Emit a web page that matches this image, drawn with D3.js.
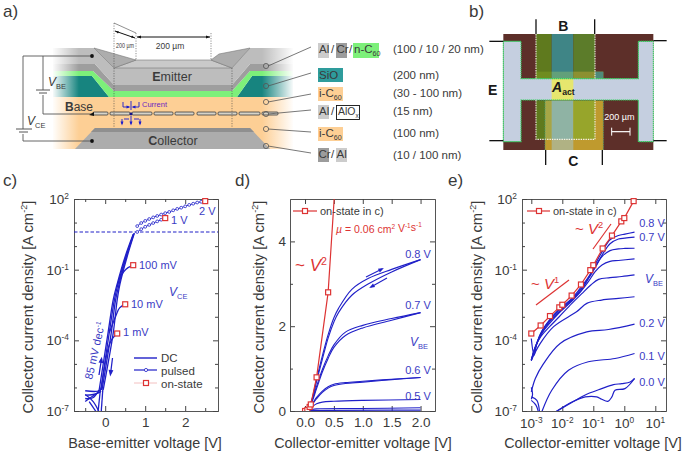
<!DOCTYPE html>
<html><head><meta charset="utf-8">
<script src="https://cdn.jsdelivr.net/npm/d3@7/dist/d3.min.js"></script>
<style>html,body{margin:0;padding:0;background:#fff}svg{display:block;font-family:"Liberation Sans",Arial,sans-serif}</style>
</head><body><svg id="c" width="685" height="455"></svg>
<script>
// ---------- panel c data: [Vbe, log10 J]
const cBandUp=[[-0.15,-6.1],[0.07,-3.69],[0.2,-2.28],[0.3,-1.6],[0.5,-0.44],[0.7,0.5]];
const cBandDown=[[-0.05,-6.1],[0.2,-3.69],[0.3,-2.28],[0.37,-1.6],[0.55,-0.44],[0.73,0.55]];
const cBandMid1=[[-0.11,-6.1],[0.1,-3.69],[0.23,-2.28],[0.32,-1.6],[0.52,-0.44],[0.71,0.52]];
const cBandMid2=[[-0.08,-6.1],[0.15,-3.69],[0.26,-2.28],[0.35,-1.6],[0.53,-0.44],[0.72,0.54]];
const cKnee1mV=[[-0.1,-6.1],[0.08,-4.3],[0.17,-3.95],[0.3,-3.71]];
const cKnee10mV=[[0.1,-3.69],[0.27,-2.95],[0.36,-2.62],[0.5,-2.47]];
const cKnee100mV=[[0.3,-1.7],[0.4,-1.25],[0.52,-0.98],[0.7,-0.81]];
const cLow1=[[-0.5,-6.14],[-0.15,-6.14],[-0.08,-5.95]];
const cLow2=[[-0.5,-6.33],[-0.3,-6.3],[-0.12,-6.2]];
const cLow3=[[-0.5,-6.47],[-0.32,-6.45],[-0.15,-6.1]];
const cLow4=[[-0.5,-6.6],[-0.3,-6.35],[-0.1,-6.15]];
const cLow5=[[-0.5,-6.3],[-0.3,-6.6],[-0.15,-7.05]];
const cLow6=[[-0.4,-6.6],[-0.22,-7.05]];
const cLow7=[[-0.12,-6.1],[-0.18,-7.05]];
const cLow8=[[-0.06,-6.1],[-0.1,-7.05]];
const cPulsed1V=[[0.8,0.6],[0.9,0.72],[1.0,0.82],[1.1,0.9],[1.2,0.98],[1.3,1.05],[1.4,1.12],[1.5,1.19]];
const cPulsed2V=[[0.8,0.85],[0.9,0.98],[1.0,1.07],[1.1,1.15],[1.2,1.22],[1.3,1.28],[1.4,1.34],[1.5,1.4],[1.6,1.45],[1.7,1.52],[1.8,1.58],[1.9,1.63],[2.0,1.69],[2.1,1.75],[2.2,1.8],[2.3,1.85],[2.4,1.88],[2.5,1.92]];
const cOnState=[[0.3,-3.71],[0.5,-2.47],[0.7,-0.81],[1.5,1.19],[2.5,1.91]];
const cThresholdLog=0.6;
// ---------- on-state: VCE and log10 J (panels d and e)
const onV=[0.001,0.002,0.004,0.008,0.01,0.02,0.04,0.08,0.1,0.2,0.4,0.8,1,2];
const onLogJ=[-3.71,-3.37,-2.97,-2.6,-2.49,-2.10,-1.63,-1.02,-0.81,-0.10,0.447,1.05,1.19,1.91];
// ---------- panel d data: [VCE, J]
const d08up=[[0,0],[0.1,0.2],[0.2,0.75],[0.3,1.3],[0.4,1.8],[0.5,2.2],[0.58,2.42],[0.81,2.87],[1.1,3.13],[1.5,3.34],[2,3.57]];
const d08dn=[[0,0],[0.1,0.18],[0.2,0.7],[0.3,1.22],[0.4,1.72],[0.5,2.1],[0.58,2.32],[0.81,2.73],[1.1,3.0],[1.5,3.28],[2,3.57]];
const d07up=[[0,0],[0.1,0.18],[0.2,0.58],[0.3,0.98],[0.4,1.3],[0.5,1.56],[0.7,1.86],[1,2.02],[1.5,2.18],[2,2.32]];
const d07dn=[[0,0],[0.1,0.16],[0.2,0.53],[0.3,0.92],[0.4,1.24],[0.5,1.5],[0.7,1.78],[1,1.96],[1.5,2.14],[2,2.32]];
const d06up=[[0,0],[0.1,0.13],[0.2,0.32],[0.3,0.47],[0.4,0.57],[0.5,0.63],[0.7,0.67],[1,0.7],[1.5,0.75],[2,0.79]];
const d06dn=[[0,0],[0.1,0.11],[0.2,0.29],[0.3,0.44],[0.4,0.54],[0.5,0.6],[0.7,0.65],[1,0.68],[1.5,0.74],[2,0.79]];
const d05=[[0,0],[0.1,0.08],[0.2,0.17],[0.3,0.21],[0.5,0.23],[1,0.25],[2,0.27]];
const d04=[[0,0],[0.1,0.03],[0.2,0.05],[1,0.06],[2,0.075]];
const d03=[[0,0],[0.1,0.01],[2,0.02]];
// ---------- panel e data: [log10 VCE, log10 J]
const e08=[[-3,-3.92],[-2.91,-4.63],[-2.82,-4.13],[-2.64,-3.57],[-2.41,-3.14],[-2.1,-2.68],[-1.69,-2.22],[-1.38,-1.72],[-1.08,-1.15],[-0.89,-0.65],[-0.68,-0.16],[-0.46,0.27],[-0.19,0.45],[0.02,0.51],[0.33,0.59]];
const e07=[[-3,-4.84],[-2.91,-4.49],[-2.7,-3.71],[-2.41,-3.14],[-2.1,-2.71],[-1.69,-2.26],[-1.38,-1.79],[-1.08,-1.22],[-0.89,-0.80],[-0.68,-0.30],[-0.46,0.10],[-0.19,0.30],[0.02,0.34],[0.33,0.38]];
const e06=[[-3,-4.84],[-2.91,-4.42],[-2.7,-3.78],[-2.41,-3.21],[-2.1,-2.78],[-1.69,-2.29],[-1.38,-1.86],[-1.16,-1.36],[-0.94,-0.87],[-0.72,-0.44],[-0.46,-0.19],[-0.19,-0.12],[0.02,-0.10],[0.33,-0.09]];
const e05=[[-3,-4.84],[-2.7,-3.78],[-2.41,-3.28],[-2.1,-2.83],[-1.69,-2.33],[-1.38,-1.89],[-1.16,-1.51],[-0.94,-1.08],[-0.72,-0.8],[-0.46,-0.65],[-0.19,-0.61],[0.33,-0.54]];
const e04=[[-3,-4.87],[-2.87,-4.27],[-2.7,-3.85],[-2.41,-3.42],[-2.1,-3.0],[-1.69,-2.43],[-1.38,-2.03],[-1.08,-1.65],[-0.83,-1.41],[-0.46,-1.34],[-0.08,-1.29],[0.33,-1.22]];
const e03=[[-3,-4.84],[-2.71,-4.13],[-2.28,-3.42],[-1.53,-2.78],[-1.21,-2.43],[-0.73,-2.29],[-0.19,-2.22],[0.33,-2.15]];
const e02=[[-3,-6.19],[-2.87,-5.62],[-2.6,-4.98],[-2.07,-4.13],[-1.21,-3.64],[-0.51,-3.54],[0.33,-3.31]];
const e01=[[-2.68,-7.1],[-2.34,-6.12],[-1.8,-5.27],[-1.16,-4.91],[-0.3,-4.77],[0.33,-4.56]];
const e00a=[[-2.23,-7.05],[-1.58,-6.55],[-1.16,-6.26],[-0.73,-6.05],[-0.35,-5.88],[-0.08,-5.84],[0.19,-5.77],[0.33,-5.62]];
const e00b=[[-2.23,-7.05],[-1.69,-6.62],[-1.26,-6.40],[-0.89,-6.40],[-0.73,-6.5],[-0.53,-6.59],[-0.4,-6.4],[-0.3,-6.12],[0.02,-6.05],[0.33,-5.62]];
const e00c=[[-3,-6.4],[-2.82,-6.55],[-2.73,-7.1]];
const e00d=[[-3,-6.55],[-2.85,-6.75],[-2.76,-7.1]];
const e01b=[[-3,-6.0],[-2.96,-6.3],[-3,-6.5]];
// ---------- tick lists
const logMajor=[100,0.1,1e-4,1e-7];
const logMinor=[10,1,0.01,1e-3,1e-5,1e-6];
const cXMajor=[0,1,2], cXMinor=[-0.5,0.5,1.5,2.5];
const dXMajor=[0,0.5,1,1.5,2], dYMajor=[0,2,4], dYMinor=[1,3];
const eXMajor=[1e-3,1e-2,1e-1,1,10];

const BLUE="#2020c8",LBLUE="#3b3bc4",RED="#dd3333",TXT="#3a3a3a";
const svg=d3.select("#c");

function rich(parent,x,y,parts,o={}){
  const t=parent.append("text").attr("x",x).attr("y",y)
    .attr("font-size",o.size||11).attr("fill",o.fill||TXT).attr("text-anchor",o.anchor||"start");
  if(o.rot!=null)t.attr("transform",`rotate(${o.rot} ${x} ${y})`);
  if(o.weight)t.attr("font-weight",o.weight);
  parts.forEach(p=>{
    if(typeof p==="string")p={t:p};
    const s=t.append("tspan").text(p.t);
    const base=o.size||11;
    if(p.sup){s.attr("dy",-base*0.38).attr("font-size",base*0.62);}
    if(p.sub){s.attr("dy",base*0.25).attr("font-size",base*0.62);}
    if(p.i)s.attr("font-style","italic");
    if(p.b)s.attr("font-weight","bold");
    if(p.back)s.attr("dy",p.back);
  });
  return t;
}
const powParts=v=>["10",{t:String(Math.round(Math.log10(v))),sup:1}];

function frame(box,xS,yS,o){
  const g=svg.append("g");
  const tick=(gen,tr)=>{
    const a=g.append("g").attr("transform",tr).call(gen);
    a.selectAll(".domain").attr("stroke","#555").attr("stroke-width",1);
    a.selectAll("line").attr("stroke","#444").attr("stroke-width",1);
    a.selectAll("text").attr("fill",TXT).attr("font-size",13.5).attr("font-family",'"Liberation Sans",Arial,sans-serif');
    a.selectAll("text").filter(function(){return !this.textContent;}).remove();
    return a;
  };
  const mk=(fn,s,vals,len,fmt,pad)=>fn(s).tickValues(vals).tickSize(len).tickSizeOuter(0).tickPadding(pad||3).tickFormat(fmt||(()=>""));
  const bx=`translate(0,${box.b})`,tx=`translate(0,${box.t})`,ly=`translate(${box.l},0)`,ry=`translate(${box.r},0)`;
  tick(mk(d3.axisBottom,xS,o.xMajor,-5,o.xLog?null:o.xFmt,6.5),bx);
  tick(mk(d3.axisTop,xS,o.xMajor,-5),tx);
  if(o.xMinor){tick(mk(d3.axisBottom,xS,o.xMinor,-3),bx);tick(mk(d3.axisTop,xS,o.xMinor,-3),tx);}
  tick(mk(d3.axisLeft,yS,o.yMajor,-5,o.yLog?null:o.yFmt,4),ly);
  tick(mk(d3.axisRight,yS,o.yMajor,-5),ry);
  if(o.yMinor){tick(mk(d3.axisLeft,yS,o.yMinor,-3),ly);tick(mk(d3.axisRight,yS,o.yMinor,-3),ry);}
  if(o.yLog)o.yMajor.forEach(v=>rich(g,box.l-5,yS(v)+5,powParts(v),{size:13.5,anchor:"end"}));
  if(o.xLog)o.xMajor.forEach(v=>rich(g,xS(v),box.b+17,powParts(v),{size:13.5,anchor:"middle"}));
  rich(g,o.xTitleX,448,[o.xTitle],{size:14.4,anchor:"middle"});
  rich(g,o.yTitleX,307,["Collector current density [A cm",{t:"-2",sup:1},{t:"]",back:5.5}],{size:14.8,anchor:"middle",rot:-90});
  const id="clip"+o.id;
  svg.append("clipPath").attr("id",id).append("rect").attr("x",box.l).attr("y",box.t).attr("width",box.r-box.l).attr("height",box.b-box.t);
  return svg.append("g").attr("clip-path",`url(#${id})`);
}
function square(g,x,y,s=7){
  g.append("rect").attr("x",x-s/2+.5).attr("y",y-s/2+.5).attr("width",s-1).attr("height",s-1)
   .attr("fill","#fff").attr("stroke",RED).attr("stroke-width",1.2);
}
function arrow(g,x1,y1,x2,y2,c=BLUE,w=1.3,h=4){
  g.append("line").attr("x1",x1).attr("y1",y1).attr("x2",x2).attr("y2",y2).attr("stroke",c).attr("stroke-width",w);
  const a=Math.atan2(y2-y1,x2-x1);
  const pts=[[x2+Math.cos(a)*h*.6,y2+Math.sin(a)*h*.6],[x2-Math.cos(a)*h+Math.sin(a)*h*.6,y2-Math.sin(a)*h-Math.cos(a)*h*.6],[x2-Math.cos(a)*h-Math.sin(a)*h*.6,y2-Math.sin(a)*h+Math.cos(a)*h*.6]];
  g.append("polygon").attr("points",pts.join(" ")).attr("fill",c);
}
function poly(g,pts,fill,stroke,sw){const p=g.append("polygon").attr("points",pts.map(d=>d.join(",")).join(" ")).attr("fill",fill);
  if(stroke)p.attr("stroke",stroke).attr("stroke-width",sw||.7);return p;}
function rect(g,x,y,w,h,fill,stroke,sw){const r=g.append("rect").attr("x",x).attr("y",y).attr("width",w).attr("height",h).attr("fill",fill);
  if(stroke)r.attr("stroke",stroke).attr("stroke-width",sw||1);return r;}
function seg(g,x1,y1,x2,y2,c,w,dash){const l=g.append("line").attr("x1",x1).attr("y1",y1).attr("x2",x2).attr("y2",y2).attr("stroke",c).attr("stroke-width",w||1);
  if(dash)l.attr("stroke-dasharray",dash);return l;}

// ========== PANEL C
{
  const box={l:74,r:218,t:199,b:411};
  const x=d3.scaleLinear().domain([-0.78,2.82]).range([box.l,box.r]);
  const y=d3.scaleLog().domain([1e-7,100]).range([box.b,box.t]);
  const p=frame(box,x,y,{id:"c",xMajor:cXMajor,xMinor:cXMinor,yMajor:logMajor,yMinor:logMinor,yLog:1,xFmt:d3.format("d"),
    xTitle:"Base-emitter voltage [V]",xTitleX:145,yTitleX:33});
  const line=d3.line().x(d=>x(d[0])).y(d=>y(10**d[1])).curve(d3.curveCatmullRom.alpha(.5));
  [cBandUp,cBandDown,cBandMid1,cBandMid2,cKnee1mV,cKnee10mV,cKnee100mV,cLow1,cLow2,cLow3,cLow4,cLow5,cLow6,cLow7,cLow8]
    .forEach(d=>p.append("path").attr("d",line(d)).attr("fill","none").attr("stroke",BLUE).attr("stroke-width",1.3));
  p.append("line").attr("x1",box.l).attr("x2",box.r).attr("y1",y(10**cThresholdLog)).attr("y2",y(10**cThresholdLog))
    .attr("stroke",BLUE).attr("stroke-width",1.2).attr("stroke-dasharray","3.5,2");
  [cPulsed1V,cPulsed2V].forEach(s=>{
    p.append("path").attr("d",line(s)).attr("fill","none").attr("stroke",BLUE).attr("stroke-width",.9);
    p.selectAll(null).data(s).join("circle").attr("cx",d=>x(d[0])).attr("cy",d=>y(10**d[1])).attr("r",1.4)
      .attr("fill","#fff").attr("stroke",BLUE).attr("stroke-width",.8);
  });
  cOnState.forEach(d=>square(svg,x(d[0]),y(10**d[1]),6));
  const L=(X,Y,t)=>rich(svg,X,Y,[t],{size:11,fill:LBLUE});
  L(123,336,"1 mV");L(131,308,"10 mV");L(139,269,"100 mV");L(171,224,"1 V");L(199,215,"2 V");
  rich(svg,169,296,[{t:"V",i:1},{t:"CE",sub:1}],{size:12,fill:LBLUE});
  rich(svg,92,380,["85 mV dec",{t:"-1",sup:1}],{size:11,fill:LBLUE,rot:-77});
  arrow(svg,99,375,101.5,359);arrow(svg,112.5,358,110.5,374);
  seg(svg,134,358,157,358,BLUE,1.4);
  seg(svg,134,370,157,370,BLUE,1.2);svg.append("circle").attr("cx",146).attr("cy",370).attr("r",1.6).attr("fill","#fff").attr("stroke",BLUE).attr("stroke-width",.8);
  seg(svg,134,383,157,383,"#f0b0b0",.8);square(svg,146,383,6);
  rich(svg,161,362,["DC"],{size:11.5});rich(svg,161,374.5,["pulsed"],{size:11.5});rich(svg,161,387.5,["on-state"],{size:11.5});
}
// ========== PANEL D
{
  const box={l:290,r:435,t:199,b:411};
  const x=d3.scaleLinear().domain([-0.26,2.25]).range([box.l,box.r]);
  const y=d3.scaleLinear().domain([0,5]).range([box.b,box.t]);
  const p=frame(box,x,y,{id:"d",xMajor:dXMajor,yMajor:dYMajor,yMinor:dYMinor,xFmt:d3.format(".1f"),yFmt:d3.format("d"),
    xTitle:"Collector-emitter voltage [V]",xTitleX:363,yTitleX:264});
  const line=d3.line().x(d=>x(d[0])).y(d=>y(d[1])).curve(d3.curveCatmullRom.alpha(.5));
  [d08up,d08dn,d07up,d07dn,d06up,d06dn,d05,d04,d03].forEach(d=>p.append("path").attr("d",line(d)).attr("fill","none").attr("stroke",BLUE).attr("stroke-width",1.1));
  const on=onV.map((v,i)=>[v,10**onLogJ[i]]);
  p.append("path").attr("d",d3.line().x(d=>x(d[0])).y(d=>y(d[1]))(on)).attr("fill","none").attr("stroke",RED).attr("stroke-width",1.2);
  on.filter(d=>d[1]<5&&(d[0]>=0.04||d[0]==0.001)).forEach(d=>square(p,x(d[0]),y(d[1]),6));
  seg(svg,293,211,317,211,RED,1.2);square(svg,305,211,6);
  rich(svg,320,215,["on-state in c)"],{size:11});
  rich(svg,336,233,[{t:"µ",i:1}," = 0.06 cm",{t:"2",sup:1},{t:" V",back:3},{t:"-1",sup:1},{t:"s",back:3},{t:"-1",sup:1}],{size:10.5,fill:RED});
  rich(svg,295,271,["~ ",{t:"V",i:1},{t:"2",sup:1}],{size:17,fill:RED});
  const L=(X,Y,t)=>rich(svg,X,Y,[t],{size:11,fill:LBLUE,anchor:"middle"});
  L(418,258,"0.8 V");L(418,309,"0.7 V");L(418,374,"0.6 V");L(418,400,"0.5 V");
  rich(svg,410,346,[{t:"V",i:1},{t:"BE",sub:1}],{size:12,fill:LBLUE});
  arrow(svg,366,277,382,269,BLUE,1.1,3.5);arrow(svg,387,278,371,287,BLUE,1.1,3.5);
}
// ========== PANEL E
{
  const box={l:522,r:666,t:199,b:411};
  const x=d3.scaleLog().domain([10**-3.3,10**1.345]).range([box.l,box.r]);
  const y=d3.scaleLog().domain([1e-7,100]).range([box.b,box.t]);
  const p=frame(box,x,y,{id:"e",xMajor:eXMajor,yMajor:logMajor,yMinor:logMinor,xLog:1,yLog:1,
    xTitle:"Collector-emitter voltage [V]",xTitleX:593,yTitleX:482});
  const line=d3.line().x(d=>x(10**d[0])).y(d=>y(10**d[1])).curve(d3.curveCatmullRom.alpha(.5));
  [e08,e07,e06,e05,e04,e03,e02,e01,e00a,e00b,e00c,e00d,e01b].forEach(d=>p.append("path").attr("d",line(d)).attr("fill","none").attr("stroke",BLUE).attr("stroke-width",1.2));
  const on=onV.map((v,i)=>[v,10**onLogJ[i]]);
  p.append("path").attr("d",d3.line().x(d=>x(d[0])).y(d=>y(d[1]))(on)).attr("fill","none").attr("stroke",RED).attr("stroke-width",1.2);
  on.forEach(d=>square(svg,x(d[0]),y(d[1]),6));
  seg(svg,527,211,550,211,RED,1.2);square(svg,539,211,6);
  rich(svg,553,215,["on-state in c)"],{size:11});
  seg(svg,536,305,569,280,RED,1.2);seg(svg,593,249,611,224,RED,1.2);
  rich(svg,531,289,["~ ",{t:"V",i:1},{t:"1",sup:1}],{size:15,fill:RED});
  rich(svg,575,234,["~ ",{t:"V",i:1},{t:"2",sup:1}],{size:15,fill:RED});
  const L=(Y,t)=>rich(svg,652,Y,[t],{size:11,fill:LBLUE,anchor:"middle"});
  L(227,"0.8 V");L(241,"0.7 V");L(327,"0.2 V");L(360,"0.1 V");L(386,"0.0 V");
  rich(svg,645,283,[{t:"V",i:1},{t:"BE",sub:1}],{size:12,fill:LBLUE});
}
// ========== PANEL A (device stack)
{
  const g=svg.append("g");
  const GR="#bdbdbd",DG="#9e9e9e",GN="#7df07a",TL="#17847f",OR="#fdcf95";
  rect(g,53,97,240,52,OR);
  poly(g,[[53,76],[92,76],[109,97],[53,97]],TL);
  poly(g,[[53,71],[93,71],[114,91],[114,97],[109,97],[92,76],[53,76]],GN);
  poly(g,[[53,64],[95,64],[114,85],[114,91],[93,71],[53,71]],DG);
  poly(g,[[53,48],[94,48],[114,68],[114,85],[95,64],[53,64]],GR);
  poly(g,[[293,76],[252,76],[237,97],[293,97]],TL);
  poly(g,[[293,71],[250,71],[232,91],[232,97],[237,97],[252,76],[293,76]],GN);
  poly(g,[[293,64],[250,64],[232,85],[232,91],[250,71],[293,71]],DG);
  poly(g,[[293,48],[250,48],[232,68],[232,85],[250,64],[293,64]],GR);
  rect(g,114,68,118,17,GR);rect(g,114,85,118,6,DG);rect(g,114,91,118,6,GN);
  poly(g,[[114,68],[136,60],[211,60],[232,68]],"#c9c9c9","#777",.6);
  poly(g,[[94,48],[136,60],[114,68]],"#adadad","#777",.6);
  poly(g,[[211,60],[219,54],[250,48],[232,68]],"#adadad","#777",.6);
  const defs=svg.append("defs");
  const gd=(id,a,b)=>{const l=defs.append("linearGradient").attr("id",id);
    l.append("stop").attr("offset",0).attr("stop-color","#fff").attr("stop-opacity",a);
    l.append("stop").attr("offset",1).attr("stop-color","#fff").attr("stop-opacity",b);};
  gd("fl",1,0);gd("fr",0,1);
  rect(g,52,46,27,104,"url(#fl)");rect(g,262,46,32,104,"url(#fr)");
  poly(g,[[75,149],[95,128],[250,128],[270,149]],"#acacac");
  poly(g,[[95,128],[250,128],[254,132],[91,132]],"#8f8f8f");
  const strips=[[93,108],[110,130],[132,152],[154,173],[175,194],[197,216],[218,237],[239,260],[262,278]];
  strips.forEach(s=>g.append("rect").attr("x",s[0]).attr("y",112).attr("width",s[1]-s[0]).attr("height",3).attr("rx",1).attr("fill","#d6d3c8").attr("stroke","#3a3a3a").attr("stroke-width",.8));
  const DOT="1.2,1.3";
  seg(g,114,23,114,128,"#444",.6,DOT);seg(g,232,68,232,128,"#444",.6,DOT);
  seg(g,136,33,136,60,"#444",.6,DOT);seg(g,211,33,211,60,"#444",.6,DOT);
  seg(g,114,23,136,33,"#444",.6);
  seg(g,115,31,135,38,"#111",1);seg(g,137,37,210,37,"#111",1);
  poly(g,[[115,31],[119,31.4],[118,33.4]],"#111");poly(g,[[135,38],[131,37.6],[132,35.6]],"#111");
  poly(g,[[137,37],[141,35.5],[141,38.5]],"#111");poly(g,[[210,37],[206,35.5],[206,38.5]],"#111");
  rich(g,125,48,["200 µm"],{size:8,anchor:"middle"}).attr("textLength",18).attr("lengthAdjust","spacingAndGlyphs");
  rich(g,170,49,["200 µm"],{size:8.5,anchor:"middle"});
  const W="#555";
  [[23,56,92,56],[43,56,43,90],[43,95,43,114],[43,114,92,114],[23,56,23,129],[23,134,23,141],[23,141,92,141]].forEach(s=>seg(g,...s,W,.9));
  seg(g,36,90,50,90,W,1);seg(g,39,93,47,93,W,1);
  seg(g,16,129,32,129,W,1);seg(g,19,132,28,132,W,1);
  [[92,56],[92,141]].forEach(c=>g.append("circle").attr("cx",c[0]).attr("cy",c[1]).attr("r",1.9).attr("fill","#111"));
  poly(g,[[89,115],[94,112],[94,116]],"#111");
  rich(g,48,86,[{t:"V",i:1},{t:"BE",sub:1}],{size:12});
  rich(g,27,125,[{t:"V",i:1},{t:"CE",sub:1}],{size:12});
  rich(g,65,111,[{t:"B",b:1},"ase"],{size:12});
  rich(g,172,81,[{t:"E",b:1},"mitter"],{size:12.5,anchor:"middle"});
  rich(g,173,145,[{t:"C",b:1},"ollector"],{size:12.5,anchor:"middle"});
  const CB="#1c1ccc";
  g.append("circle").attr("cx",131).attr("cy",114).attr("r",1.4).attr("fill","#11118a");
  seg(g,131,101,131,110,CB,.9);seg(g,123,102,123,107,CB,.9);seg(g,139,102,139,107,CB,.9);
  arrow(g,123,107,129,107,CB,.9,2.5);arrow(g,139,107,133,107,CB,.9,2.5);
  arrow(g,131,116,131,124,CB,.9,2.5);
  seg(g,124,119,129,119,CB,.9);seg(g,134,119,139,119,CB,.9);
  arrow(g,122,119,122,124,CB,.9,2.5);arrow(g,140,119,140,124,CB,.9,2.5);
  rich(g,142,107,["Current"],{size:7.5,fill:"#6a1fc0"});
  const cy=[66,86,102,114,129,146], ly=[47,73,94,110,132,153];
  cy.forEach((v,i)=>{seg(g,268,v,311,ly[i],"#555",.8);
    g.append("circle").attr("cx",266).attr("cy",v).attr("r",2.6).attr("fill","none").attr("stroke","#555").attr("stroke-width",.8);});
  const chip=(x,y,w,h,f)=>rect(g,x,y,w,h,f);
  const T=(x,y,p,o)=>rich(g,x,y,p,Object.assign({size:11.5},o||{}));
  chip(318,43,11,15,"#cccccc");T(319,53,["Al"]);T(331,53,["/"]);
  chip(336,43,11,15,"#9c9c9c");T(336.5,53,["Cr"]);T(349,53,["/"]);
  chip(353,43,26,15,"#7df07a");T(354,53,["n-C",{t:"60",sub:1}]);
  chip(318,68,25,14,"#2e9c9c");T(319,79,["SiO"]);
  chip(318,87,25,14,OR);T(319,97,["i-C",{t:"60",sub:1}]);
  chip(318,105,11,14,"#cccccc");T(319,115,["Al"]);T(331,115,["/"]);
  rect(g,336.5,105.5,23,14,"#fff","#111",.9);T(338,115,["AlO",{t:"x",sub:1}],{size:10.5});
  chip(318,127,25,14,OR);T(319,137,["i-C",{t:"60",sub:1}]);
  chip(318,148,11,14,"#9c9c9c");T(318.5,158,["Cr"]);T(331,158,["/"]);
  chip(336,148,11,14,"#cccccc");T(336.5,158,["Al"]);
  T(393,53,["(100 / 10 / 20 nm)"]);T(393,79,["(200 nm)"]);T(393,97,["(30 - 100 nm)"]);
  T(393,115,["(15 nm)"]);T(393,137,["(100 nm)"]);T(393,159,["(10 / 100 nm)"]);
}
// ========== PANEL B (device photograph)
{
  const g=svg.append("g");
  const X=v=>460+v/3,Y=v=>v/3;
  const R=(a,b,c,d,f)=>rect(g,X(a),Y(b),(c-a)/3,(d-b)/3,f);
  R(130,102,580,450,"#5d2f29");
  R(228,102,275,236,"#5f7a1e");R(275,102,340,236,"#3f8586");R(340,102,405,236,"#5c7c2a");
  R(228,215,275,236,"#6f8c20");R(275,215,340,236,"#62a07a");R(340,215,430,236,"#8c9030");R(405,215,430,236,"#4f8a7a");
  R(255,302,430,450,"#bf9a2e");R(275,302,340,450,"#b0b284");
  R(228,302,255,418,"#5f7a1e");R(255,302,275,418,"#a6a646");R(275,302,340,418,"#8fb3a4");R(340,302,405,418,"#97a52b");
  const E="#c5cfe0";
  R(130,124,183,425,E);R(535,124,580,425,E);R(130,236,580,300,E);
  R(275,236,340,300,"#e6e66e");
  const GD="#35d060";
  const outline=[[130,124],[183,124],[183,236],[535,236],[535,124],[580,124],[580,425],[535,425],[535,300],[183,300],[183,425],[130,425]];
  g.append("polygon").attr("points",outline.map(d=>[X(d[0]),Y(d[1])].join(",")).join(" ")).attr("fill","none").attr("stroke",GD).attr("stroke-width",1.1).attr("stroke-dasharray","1.4,.6");
  g.append("path").attr("d",`M${X(228)},${Y(102)}V${Y(236)}M${X(405)},${Y(102)}V${Y(236)}M${X(228)},${Y(300)}V${Y(418)}H${X(405)}V${Y(300)}`).attr("fill","none").attr("stroke","#f4f4ea").attr("stroke-width",1.1).attr("stroke-dasharray","1.4,1");
  g.append("path").attr("d",`M${X(255)},${Y(302)}V${Y(450)}M${X(430)},${Y(302)}V${Y(450)}`).attr("fill","none").attr("stroke","#3f9f7a").attr("stroke-width",.8).attr("stroke-dasharray","1.4,1");
  [[228,58,228,102],[404,58,404,102],[257,450,257,495],[427,450,427,495],[88,124,130,124],[88,422,130,422],[580,122,620,122],[580,422,620,422]].forEach(s=>seg(g,X(s[0]),Y(s[1]),X(s[2]),Y(s[3]),"#111",1.3));
  const Tb=(x,y,t)=>rich(g,X(x),Y(y),[t],{size:14,weight:"bold",fill:"#1a1a1a",anchor:"middle"});
  Tb(310,92,"B");Tb(98,285,"E");Tb(340,497,"C");
  rich(g,X(276),Y(275),[{t:"A",i:1,b:1},{t:"act",sub:1,b:1}],{size:14,fill:"#1a1a1a"});
  rich(g,X(478),Y(360),["200 µm"],{size:9,fill:"#fff",anchor:"middle"});
  seg(g,X(455),Y(395),X(510),Y(395),"#fff",1.2);seg(g,X(455),Y(383),X(455),Y(407),"#fff",1);seg(g,X(510),Y(383),X(510),Y(407),"#fff",1);
}
[["a)",3,17],["b)",469,17],["c)",3,186],["d)",235,186],["e)",448,186]].forEach(d=>rich(svg,d[1],d[2],[d[0]],{size:17}));
</script></body></html>
